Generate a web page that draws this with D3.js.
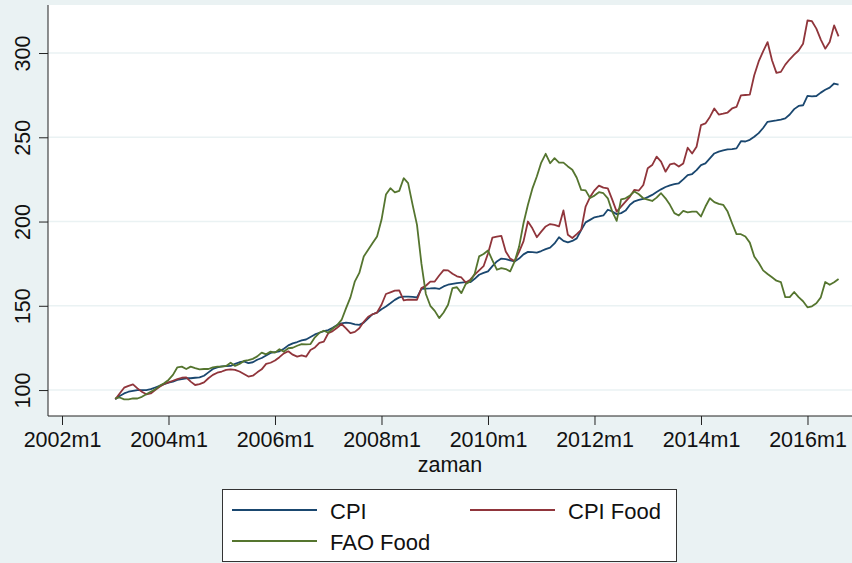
<!DOCTYPE html>
<html>
<head>
<meta charset="utf-8">
<script src="https://cdn.jsdelivr.net/npm/d3@7"></script>
<style>
  body { margin: 0; background: #eaf2f3; }
  svg { display: block; font-family: "Liberation Sans", Arial, sans-serif; }
</style>
</head>
<body>
<div id="chart"></div>
<script>
const width = 852;
const height = 563;

const margin = { left: 48, right: 0, top: 5, bottom: 147 };

// monthly series, 2003m1 .. 2016m8
const firstMonth = 12; // months after 2002m1
const cpi = [
  94.5, 96.5, 98, 99, 99.5, 100, 100, 100, 100.5, 101.5, 102.5, 103.5,
  104.4, 105, 106, 106.5, 107, 107, 107.3, 107.5, 108.5, 110.5, 112.5, 113.5,
  114, 114.2, 114.3, 115.5, 116.5, 117, 116, 116.5, 118, 119, 120.5, 122,
  122.5, 123, 124.5, 126.5, 127.7, 128.5, 129.5, 130, 131.5, 133, 134, 135,
  135.6, 137, 138.6, 139.6, 140, 139.7, 139, 138.7, 140, 142.5, 145, 146,
  148, 149.6, 151.5, 153.5, 155, 155.5, 155.5, 155.3, 155, 160, 160.2, 160.3,
  160.5, 160, 161.5, 162.5, 163, 163.5, 163.8, 164, 164, 166, 168.4, 169.5,
  170.4, 173.5, 176.3, 178, 177.7, 177, 176.3, 178, 180.5, 182, 181.8, 181.6,
  182.5, 183.6, 184.5, 187, 190.7, 188.5, 187.6, 188.5, 190, 195, 199.5, 201,
  202.5, 203, 203.6, 207, 206, 204.4, 205, 206.5, 210, 212, 212.8, 213.4,
  214.5, 215.8, 217.5, 219.1, 220.5, 221.5, 222.2, 222.7, 225, 227.6, 228.2, 230.5,
  233.5, 234.5, 237.5, 240.4, 241.5, 242.2, 242.8, 243, 243.4, 247.7, 247.5, 248.5,
  250.3, 252.5, 255.5, 259.2, 259.6, 260, 260.5, 261.2, 263.5, 266.7, 268.6, 269,
  274.6, 274.3, 274.5, 276.5, 278.2, 279.5, 281.9, 281.3
];
const cpiFood = [
  94.5, 98, 101.4, 102.5, 103.4, 101, 99, 97.5, 98, 100, 102, 103.6,
  104.5, 105.5, 106.5, 107.3, 107.5, 105, 103, 103.5, 104.5, 107, 109, 110.3,
  111, 112, 112.3, 112, 111, 109.5, 108, 108.5, 110.5, 112.3, 115.5, 116.2,
  117.5, 119.5, 121.8, 123, 121, 119.8, 120.6, 119.8, 123.8, 125.3, 128, 128.7,
  133.7, 135, 137, 139.2, 136.6, 133.8, 134.5, 136.7, 140.5, 143.5, 145, 146,
  150.6, 157, 158, 159, 159.1, 153.2, 153.6, 153.6, 153.6, 160.5, 161.9, 164.4,
  164.4, 168, 171.2, 171, 169, 167.5, 166.8, 163.8, 165.5, 168.5, 171, 173.5,
  181, 190.5, 191.1, 191.5, 182.2, 178, 176.5, 182, 188.2, 200, 196, 190.7,
  194, 197.1, 198.5, 198, 197.1, 206.6, 192.1, 190.2, 192.5, 195.1, 208.9, 214.5,
  218.5, 221.3, 220.1, 219.7, 213, 205.9, 208.9, 211.8, 214.8, 218.8, 218.4, 221.7,
  231.6, 233.5, 238.5, 235.5, 229.6, 233.9, 234.5, 232.6, 234.5, 243.8, 240.4, 244.4,
  257.2, 258.2, 262.1, 267.1, 263.5, 264, 264.7, 267.1, 268, 274.9, 275.1, 275.3,
  286.8, 295, 301, 306.5, 295.7, 288.2, 288.8, 293.1, 296.3, 299, 301.5, 305.5,
  319.3, 318.9, 314.5, 308, 302.6, 306.5, 316.4, 309.9
];
const faoFood = [
  95, 95.6, 94.5, 94.5, 95, 95, 96, 97.5, 99, 100.4, 102.5, 104,
  106, 109, 113.5, 113.9, 112.5, 113.9, 113, 112.3, 112.5, 112.5, 113.5, 113.9,
  113.9, 114.3, 116.2, 114.3, 115.5, 117.3, 117.8, 118.5, 120, 122.2, 121.2, 122.8,
  122.2, 124.2, 122.8, 124.8, 125.1, 126.3, 127.3, 127.1, 127.3, 131.3, 134, 135.2,
  134.1, 136.5, 138.5, 141.6, 148.5, 155, 164.5, 169.5, 179.3, 183.2, 187.2, 191.1,
  201, 216, 219.8, 217.3, 218.2, 225.7, 222.8, 210, 198, 175, 157, 150,
  147, 142.7, 146, 150.6, 160.5, 161, 157.5, 163, 164.5, 169, 179.3, 180.7,
  182.8, 177, 171.4, 172.4, 171.8, 170.4, 176.3, 185, 199, 210, 219.5, 226.7,
  235, 240.2, 234.6, 237.6, 235, 235, 232.7, 230.7, 226, 218.8, 218.5, 214,
  215.4, 217.4, 216.8, 213.8, 205.9, 200.4, 213.2, 213.8, 215.5, 217.8, 216.2, 213.8,
  213, 212.2, 214.2, 216.8, 213.8, 209.9, 205, 203.6, 206.3, 205.5, 205.9, 205.9,
  203, 208.9, 213.8, 211.5, 210.5, 209.9, 205.9, 199, 192.5, 192.5, 191.1, 187.5,
  179.3, 175.5, 171, 168.9, 166.9, 164.9, 164.1, 155.1, 155.1, 158.2, 155.1, 152.7,
  149.1, 149.7, 151.5, 155, 164.1, 162.5, 164, 165.9
];

const seriesNames = ["CPI", "CPI Food", "FAO Food"];
const colors = ["#1a476f", "#90353b", "#55752f"];

const xTickValues = [0, 24, 48, 72, 96, 120, 144, 168];
const xTickLabels = ["2002m1", "2004m1", "2006m1", "2008m1", "2010m1", "2012m1", "2014m1", "2016m1"];
const yTickValues = [100, 150, 200, 250, 300];
const xTitle = "zaman";

const lines = [cpi, cpiFood, faoFood].map(s => s.map((v, i) => ({ m: firstMonth + i, v: v })));

const svg = d3.select("#chart").append("svg")
    .attr("width", width)
    .attr("height", height);

svg.append("rect")
    .attr("width", width)
    .attr("height", height)
    .attr("fill", "#eaf2f3");

const xScale = d3.scaleLinear()
    .domain([-3.155, 178.03])
    .range([margin.left, width - margin.right]);

const yScale = d3.scaleLinear()
    .domain([84.6, 328.5])
    .range([height - margin.bottom, margin.top]);

svg.append("rect")
    .attr("x", margin.left)
    .attr("y", margin.top)
    .attr("width", width - margin.right - margin.left)
    .attr("height", height - margin.bottom - margin.top)
    .attr("fill", "white");

// grid
svg.append("g")
    .selectAll("line")
    .data(yTickValues)
    .join("line")
      .attr("x1", margin.left)
      .attr("x2", width - margin.right)
      .attr("y1", d => yScale(d))
      .attr("y2", d => yScale(d))
      .attr("stroke", "#eaf2f3")
      .attr("stroke-width", 1.5);

const line = d3.line()
    .x(d => xScale(d.m))
    .y(d => yScale(d.v));

svg.selectAll(".curve")
    .data(lines)
    .join("path")
      .attr("class", "curve")
      .attr("fill", "none")
      .attr("stroke", (_, i) => colors[i])
      .attr("stroke-width", 1.8)
      .attr("stroke-linejoin", "round")
      .attr("d", d => line(d));

const xAxis = svg.append("g")
    .attr("transform", "translate(0," + (height - margin.bottom) + ")")
    .call(d3.axisBottom(xScale)
      .tickValues(xTickValues)
      .tickFormat((d, i) => xTickLabels[i])
      .tickSize(9)
      .tickSizeOuter(0));

const yAxis = svg.append("g")
    .attr("transform", "translate(" + margin.left + ",0)")
    .call(d3.axisLeft(yScale)
      .tickValues(yTickValues)
      .tickSize(9)
      .tickSizeOuter(0));

xAxis.select(".domain").attr("stroke", "#222").attr("d", `M${margin.left},0H${width - margin.right}`);
yAxis.select(".domain").attr("stroke", "#222").attr("d", `M0,${margin.top}V${height - margin.bottom}`);
svg.selectAll(".tick line").attr("stroke", "#222");

xAxis.selectAll(".tick text")
    .attr("y", 31)
    .attr("dy", 0)
    .attr("fill", "#111")
    .style("font-size", "21.5px");

yAxis.selectAll(".tick text")
    .attr("x", 0)
    .attr("y", -18)
    .attr("dy", 0)
    .attr("text-anchor", "middle")
    .attr("transform", "rotate(-90)")
    .attr("fill", "#111")
    .style("font-size", "21.5px");

svg.selectAll("g.tick text").style("font-family", "'Liberation Sans', Arial, sans-serif");

svg.append("text")
    .attr("x", (margin.left + width - margin.right) / 2)
    .attr("y", 472)
    .attr("text-anchor", "middle")
    .attr("fill", "#111")
    .style("font-size", "21.5px")
    .text(xTitle);

// legend
const legend = svg.append("g");

legend.append("rect")
    .attr("x", 222.5)
    .attr("y", 489.5)
    .attr("width", 454)
    .attr("height", 72)
    .attr("fill", "white")
    .attr("stroke", "#333")
    .attr("stroke-width", 1);

const legendPos = [
  { x: 232, y: 510 },
  { x: 470, y: 510 },
  { x: 232, y: 541 }
];

const items = legend.selectAll(".item")
    .data(seriesNames)
    .join("g")
      .attr("class", "item")
      .attr("transform", (_, i) => `translate(${legendPos[i].x},${legendPos[i].y})`);

items.append("line")
    .attr("x1", 0)
    .attr("x2", 85)
    .attr("stroke", (_, i) => colors[i])
    .attr("stroke-width", 1.8);

items.append("text")
    .attr("x", 98)
    .attr("y", 9)
    .attr("fill", "#111")
    .style("font-size", "22px")
    .text(d => d);
</script>
</body>
</html>
